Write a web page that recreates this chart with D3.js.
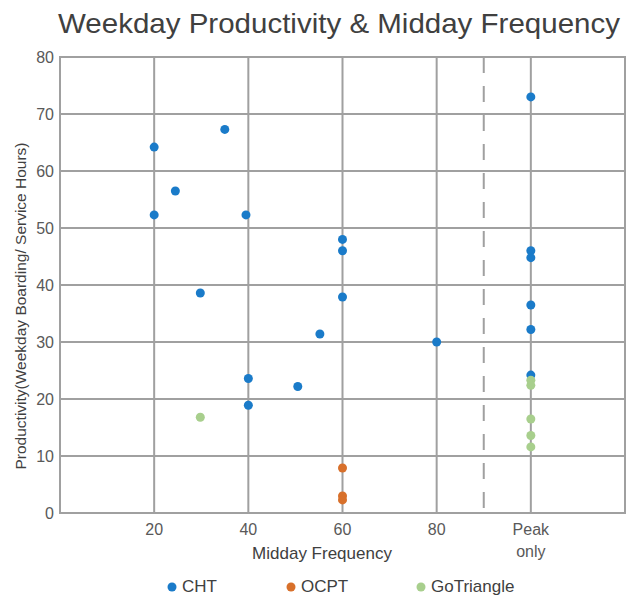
<!DOCTYPE html>
<html lang="en">
<head>
    <meta charset="UTF-8">
    <title>Weekday Productivity & Midday Frequency</title>
    <script src="https://cdn.jsdelivr.net/npm/d3@7"></script>
    <style>
        body { margin: 0; background: #fff; font-family: "Liberation Sans", Arial, sans-serif; }
        svg text { font-family: "Liberation Sans", Arial, sans-serif; }
    </style>
</head>
<body>
    <svg id="chart" width="628" height="595"></svg>

    <script>
        // Data. "Peak only" routes sit at x = 100
        const chtX = [20, 20, 24.5, 35, 39.5, 29.8, 60, 60, 60, 55.2, 80, 50.5, 40, 40, 100, 100, 100, 100, 100, 100];
        const chtY = [64.2, 52.3, 56.5, 67.3, 52.3, 38.6, 48.0, 46.0, 37.9, 31.4, 30.0, 22.2, 23.6, 18.9, 73.0, 46.0, 44.8, 36.5, 32.2, 24.2];

        const ocptX = [60, 60, 60];
        const ocptY = [7.9, 3.0, 2.3];

        const goX = [29.8, 100, 100, 100, 100, 100];
        const goY = [16.8, 23.3, 22.4, 16.5, 13.6, 11.6];

        const seriesNames = ['CHT', 'OCPT', 'GoTriangle'];
        const seriesColors = ['#1a7bc9', '#d8702b', '#a8cf8d'];

        const yTicks = [0, 10, 20, 30, 40, 50, 60, 70, 80];
        const xTicks = [20, 40, 60, 80, 100];
        const xTickLabels = { 20: ['20'], 40: ['40'], 60: ['60'], 80: ['80'], 100: ['Peak', 'only'] };
        const dividerX = 90;

        const series = [
            { name: seriesNames[0], color: seriesColors[0], points: chtX.map((x, i) => ({ x, y: chtY[i] })) },
            { name: seriesNames[1], color: seriesColors[1], points: ocptX.map((x, i) => ({ x, y: ocptY[i] })) },
            { name: seriesNames[2], color: seriesColors[2], points: goX.map((x, i) => ({ x, y: goY[i] })) }
        ];

        const svg = d3.select('#chart');
        const gridColor = '#a0a0a0';
        const tickColor = '#595959';

        const xScale = d3.scaleLinear().domain([0, 120]).range([60, 625]);
        const yScale = d3.scaleLinear().domain([0, 80]).range([513, 57]);

        // Title
        svg.append('text')
            .attr('x', 339)
            .attr('y', 33)
            .attr('text-anchor', 'middle')
            .attr('font-size', 28)
            .attr('textLength', 562)
            .attr('lengthAdjust', 'spacingAndGlyphs')
            .attr('fill', '#404040')
            .text('Weekday Productivity & Midday Frequency');

        // Grid - horizontal
        svg.append('g')
            .selectAll('line')
            .data(yTicks)
            .enter()
            .append('line')
            .attr('x1', xScale(0))
            .attr('x2', xScale(120))
            .attr('y1', d => yScale(d))
            .attr('y2', d => yScale(d))
            .attr('stroke', gridColor)
            .attr('stroke-width', 2);

        // Grid - vertical (plus left and right border)
        svg.append('g')
            .selectAll('line')
            .data([0].concat(xTicks, [120]))
            .enter()
            .append('line')
            .attr('x1', d => xScale(d))
            .attr('x2', d => xScale(d))
            .attr('y1', yScale(0) + 1)
            .attr('y2', yScale(80) - 1)
            .attr('stroke', gridColor)
            .attr('stroke-width', 2);

        // Dashed divider between frequencies and peak only
        svg.append('line')
            .attr('x1', xScale(dividerX))
            .attr('x2', xScale(dividerX))
            .attr('y1', yScale(80))
            .attr('y2', yScale(0))
            .attr('stroke', gridColor)
            .attr('stroke-width', 2)
            .attr('stroke-dasharray', '16,13');

        // Y tick labels
        svg.append('g')
            .selectAll('text')
            .data(yTicks)
            .enter()
            .append('text')
            .attr('x', 54)
            .attr('y', d => yScale(d) + 6)
            .attr('text-anchor', 'end')
            .attr('font-size', 16)
            .attr('fill', tickColor)
            .text(d => d);

        // X tick labels
        const xLabels = svg.append('g');
        xTicks.forEach(t => {
            xLabels.append('text')
                .attr('x', xScale(t))
                .attr('y', 535)
                .attr('text-anchor', 'middle')
                .attr('font-size', 16)
                .attr('fill', tickColor)
                .selectAll('tspan')
                .data(xTickLabels[t])
                .enter()
                .append('tspan')
                .attr('x', xScale(t))
                .attr('dy', (d, i) => i === 0 ? 0 : 22)
                .text(d => d);
        });

        // Axis titles
        svg.append('text')
            .attr('x', 322)
            .attr('y', 559)
            .attr('text-anchor', 'middle')
            .attr('font-size', 17)
            .attr('fill', '#404040')
            .text('Midday Frequency');

        svg.append('text')
            .attr('transform', 'translate(26,306) rotate(-90)')
            .attr('text-anchor', 'middle')
            .attr('font-size', 15.5)
            .attr('fill', '#404040')
            .text('Productivity(Weekday Boarding/ Service Hours)');

        // Points
        series.forEach(s => {
            svg.append('g')
                .selectAll('circle')
                .data(s.points)
                .enter()
                .append('circle')
                .attr('cx', d => xScale(d.x))
                .attr('cy', d => yScale(d.y))
                .attr('r', 4.5)
                .attr('fill', s.color);
        });

        // Legend
        const legendX = [172, 291, 421];
        const legend = svg.append('g');
        series.forEach((s, i) => {
            legend.append('circle')
                .attr('cx', legendX[i])
                .attr('cy', 587)
                .attr('r', 4.5)
                .attr('fill', s.color);
            legend.append('text')
                .attr('x', legendX[i] + 10)
                .attr('y', 592)
                .attr('font-size', 17)
                .attr('fill', '#404040')
                .text(s.name);
        });
    </script>
</body>
</html>
